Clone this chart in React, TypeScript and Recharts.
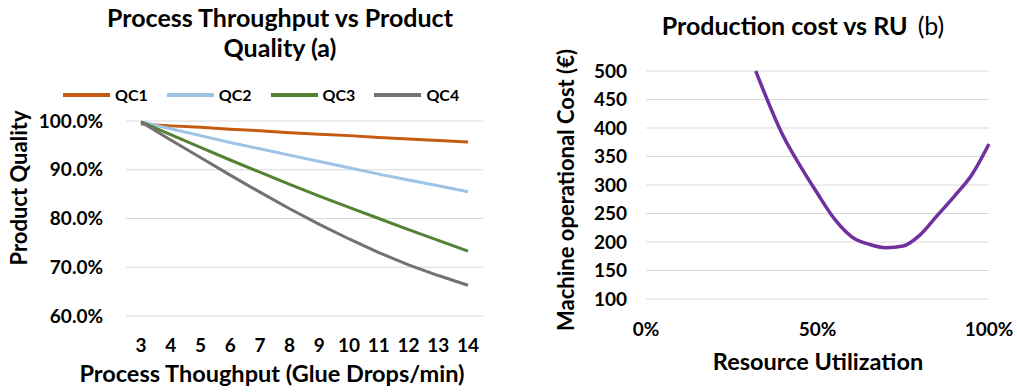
import { LineChart, Line, XAxis, YAxis, CartesianGrid, Legend } from "recharts";

// panel (a): product quality (%) per throughput (glue drops/min)
const throughput = [3, 4, 5, 6, 7, 8, 9, 10, 11, 12, 13, 14];
const qc1 = [99.4, 99.0, 98.7, 98.3, 98.0, 97.6, 97.3, 97.0, 96.6, 96.3, 96.0, 95.7];
const qc2 = [99.8, 98.4, 97.0, 95.6, 94.3, 93.0, 91.7, 90.4, 89.1, 87.9, 86.7, 85.5];
const qc3 = [99.8, 97.2, 94.6, 92.0, 89.5, 87.0, 84.6, 82.3, 80.0, 77.7, 75.5, 73.3];
const qc4 = [99.8, 96.1, 92.5, 88.9, 85.4, 82.0, 78.8, 75.8, 73.0, 70.5, 68.3, 66.3];
const qualityTicks = [60, 70, 80, 90, 100];

// panel (b): machine operational cost vs resource utilization
const utilization = [0.32, 0.4, 0.45, 0.5, 0.55, 0.6, 0.65, 0.7, 0.75, 0.8, 0.85, 0.9, 0.95, 1.0];
const cost = [500, 386, 333, 285, 240, 209, 196, 190, 193, 213, 247, 281, 318, 372];
const costTicks = [100, 150, 200, 250, 300, 350, 400, 450, 500];
const utilTicks = [0, 0.5, 1];

const qualityData = throughput.map((x, i) => ({
  x,
  QC1: qc1[i],
  QC2: qc2[i],
  QC3: qc3[i],
  QC4: qc4[i],
}));
const costData = utilization.map((u, i) => ({ u, cost: cost[i] }));

const FONT = "Lato, 'Open Sans', sans-serif";
const tickStyle = { fontSize: 19, fontWeight: 700, fill: "#000", fontFamily: FONT };

const renderLegend = ({ payload }: any) => (
  <div style={{ display: "flex", alignItems: "center", fontFamily: FONT, fontWeight: 700, fontSize: 16, color: "#000" }}>
    {(payload || []).map((p: any) => (
      <div key={p.value} style={{ display: "flex", alignItems: "center", marginRight: 19 }}>
        <span style={{ display: "inline-block", width: 47, height: 4, background: p.color, marginRight: 5 }} />
        <span>{p.value}</span>
      </div>
    ))}
  </div>
);

const textBase: React.CSSProperties = {
  position: "absolute",
  fontFamily: FONT,
  fontWeight: 700,
  color: "#000",
  whiteSpace: "nowrap",
};

export default function App() {
  return (
    <div style={{ position: "absolute", left: 0, top: 0, width: 1017, height: 392, background: "#fff", overflow: "hidden" }}>
      {/* titles */}
      <div style={{ ...textBase, left: 80, top: 2, width: 400, textAlign: "center", fontSize: 25, lineHeight: "30px" }}>
        Process Throughput vs Product
        <br />
        Quality (a)
      </div>
      <div style={{ ...textBase, left: 603, top: 10, width: 400, textAlign: "center", fontSize: 25, lineHeight: "30px" }}>
        Production cost vs RU<span style={{ fontWeight: 400, marginLeft: 10 }}>(b)</span>
      </div>

      {/* axis titles */}
      <div style={{ ...textBase, left: 18, top: 188, fontSize: 22, transform: "translate(-50%, -50%) rotate(-90deg)" }}>
        Product Quality
      </div>
      <div style={{ ...textBase, left: 72, top: 358, width: 400, textAlign: "center", fontSize: 23.5, lineHeight: "30px" }}>
        Process Thoughput (Glue Drops/min)
      </div>
      <div style={{ ...textBase, left: 565, top: 190, fontSize: 22, transform: "translate(-50%, -50%) rotate(-90deg)" }}>
        Machine operational Cost (€)
      </div>
      <div style={{ ...textBase, left: 618, top: 346, width: 400, textAlign: "center", fontSize: 23.5, lineHeight: "30px" }}>
        Resource Utilization
      </div>

      <div style={{ position: "absolute", left: 0, top: 0 }}>
        <LineChart width={500} height={392} data={qualityData} margin={{ top: 121, right: 17, left: 0, bottom: 0 }}>
          <CartesianGrid vertical={false} stroke="#d9d9d9" />
          <XAxis
            dataKey="x"
            height={76}
            axisLine={false}
            tickLine={false}
            tickSize={0}
            tickMargin={23}
            padding={{ left: 15, right: 15 }}
            tick={tickStyle}
            interval={0}
          />
          <YAxis
            width={126}
            domain={[60, 100]}
            ticks={qualityTicks}
            axisLine={false}
            tickLine={false}
            tickSize={0}
            tickMargin={23}
            tick={tickStyle}
            tickFormatter={(v: number) => `${v.toFixed(1)}%`}
          />
          <Legend
            layout="horizontal"
            verticalAlign="middle"
            align="center"
            wrapperStyle={{ top: 85, left: 63, width: "auto" }}
            content={renderLegend}
          />
          <Line dataKey="QC1" stroke="#C55A11" strokeWidth={3} dot={false} isAnimationActive={false} />
          <Line dataKey="QC2" stroke="#9DC3E6" strokeWidth={3} dot={false} isAnimationActive={false} />
          <Line dataKey="QC3" stroke="#548235" strokeWidth={3} dot={false} isAnimationActive={false} />
          <Line dataKey="QC4" stroke="#767171" strokeWidth={3} dot={false} isAnimationActive={false} />
        </LineChart>
      </div>

      <div style={{ position: "absolute", left: 520, top: 0 }}>
        <LineChart width={497} height={392} data={costData} margin={{ top: 71, right: 28, left: 0, bottom: 0 }}>
          <CartesianGrid vertical={false} stroke="#d9d9d9" />
          <XAxis
            dataKey="u"
            type="number"
            domain={[0, 1]}
            ticks={utilTicks}
            height={93}
            axisLine={false}
            tickLine={false}
            tickSize={0}
            tickMargin={24}
            tick={tickStyle}
            tickFormatter={(v: number) => `${Math.round(v * 100)}%`}
          />
          <YAxis
            width={126}
            domain={[100, 500]}
            ticks={costTicks}
            axisLine={false}
            tickLine={false}
            tickSize={0}
            tickMargin={19}
            tick={tickStyle}
          />
          <Line
            dataKey="cost"
            type="monotone"
            stroke="#7030A0"
            strokeWidth={3.5}
            dot={false}
            isAnimationActive={false}
          />
        </LineChart>
      </div>
    </div>
  );
}
